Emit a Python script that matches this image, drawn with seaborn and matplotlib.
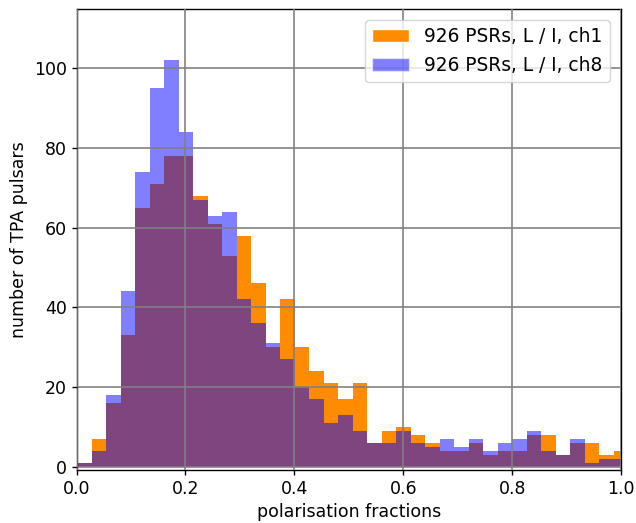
import numpy as np
import pandas as pd
import matplotlib
matplotlib.use("Agg")
import matplotlib.pyplot as plt
import seaborn as sns
from matplotlib.patches import Patch

# bin layout (38 equal bins)
bin_start = 0.001
bin_width = 0.02663
n_bins = 38

# counts per bin
counts_ch1 = [1, 7, 16, 33, 65, 71, 78, 78, 68, 61, 53, 58, 46, 30, 42, 30, 24, 21, 17,
              21, 6, 9, 10, 8, 6, 4, 4, 6, 3, 4, 4, 8, 8, 3, 6, 6, 3, 4]
counts_ch8 = [1, 4, 18, 44, 74, 95, 102, 84, 67, 63, 64, 42, 36, 31, 27, 20, 17, 11, 13,
              9, 6, 6, 9, 6, 5, 7, 5, 7, 4, 6, 7, 9, 4, 3, 7, 1, 2, 2]

label_ch1 = "926 PSRs, L / I, ch1"
label_ch8 = "926 PSRs, L / I, ch8"
xlabel = "polarisation fractions"
ylabel = "number of TPA pulsars"

edges = bin_start + bin_width * np.arange(n_bins + 1)
centers = 0.5 * (edges[:-1] + edges[1:])
df = pd.DataFrame({"x": centers,
                   "ch1": np.asarray(counts_ch1, dtype=float),
                   "ch8": np.asarray(counts_ch8, dtype=float)})

sns.set_style("white")
plt.rcParams["font.family"] = ["DejaVu Sans"]
plt.rcParams["text.color"] = "black"
plt.rcParams["axes.labelcolor"] = "black"
plt.rcParams["xtick.color"] = "black"
plt.rcParams["ytick.color"] = "black"

fig = plt.figure(figsize=(6.36, 5.23), dpi=100)
ax = fig.add_axes([0.1203, 0.1013, 0.977 - 0.1203, 0.9834 - 0.1013])

sns.histplot(data=df, x="x", weights="ch1", bins=n_bins,
             binrange=(float(edges[0]), float(edges[-1])),
             color="darkorange", alpha=1.0, linewidth=0, ax=ax)
sns.histplot(data=df, x="x", weights="ch8", bins=n_bins,
             binrange=(float(edges[0]), float(edges[-1])),
             color="blue", alpha=0.5, linewidth=0, ax=ax)

ax.set_xlim(0, 1.0)
ax.set_ylim(-0.85, 115)
ax.set_xticks([0.0, 0.2, 0.4, 0.6, 0.8, 1.0])
ax.set_yticks([0, 20, 40, 60, 80, 100])
ax.set_axisbelow(False)
ax.grid(True, color="grey", linewidth=1.3, alpha=0.9)
ax.tick_params(axis="both", which="major", labelsize=12.5, direction="out",
               length=3.5, width=1, left=True, bottom=True, colors="black")
for s in ax.spines.values():
    s.set_color("black")
    s.set_linewidth(1.0)
ax.set_xlabel(xlabel, fontsize=12.5, color="black")
ax.set_ylabel(ylabel, fontsize=12.5, color="black")

handles = [Patch(facecolor="darkorange", alpha=1.0, label=label_ch1),
           Patch(facecolor="blue", alpha=0.5, label=label_ch8)]
leg = ax.legend(handles=handles, loc="upper right", fontsize=13.4, frameon=True,
                framealpha=0.8, edgecolor="0.8", fancybox=True,
                borderaxespad=0.6)
for t in leg.get_texts():
    t.set_color("black")

fig.savefig("out.png", dpi=100)
